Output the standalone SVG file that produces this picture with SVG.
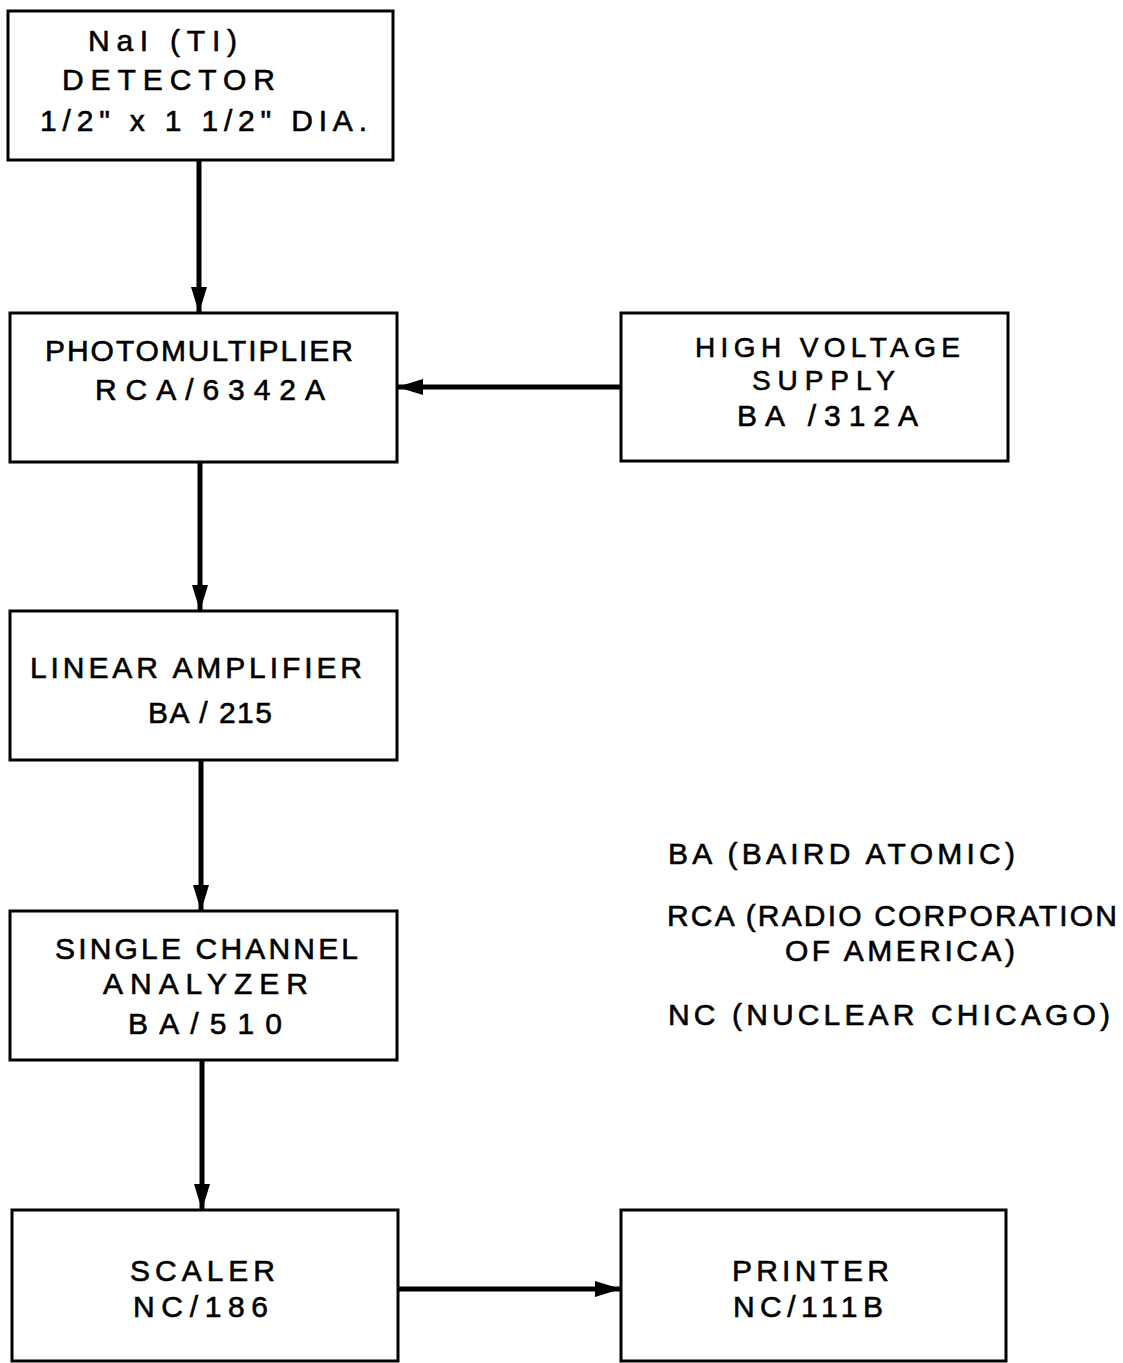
<svg xmlns="http://www.w3.org/2000/svg" width="1123" height="1363" viewBox="0 0 1123 1363">
<defs>
<style>
.box{fill:#fff;stroke:#000;stroke-width:3}
.t{font-family:"Liberation Sans",Arial,sans-serif;font-size:30px;fill:#000;stroke:#000;stroke-width:0.6}
.s{font-size:28px}
.c{stroke:#000;stroke-width:5;fill:none}
</style>
<marker id="ah" viewBox="0 0 26 16" refX="25" refY="8" markerWidth="26" markerHeight="16" markerUnits="userSpaceOnUse" orient="auto">
<path d="M0,0 L26,8 L0,16 Z" fill="#000"/>
</marker>
</defs>
<rect width="1123" height="1363" fill="#fff"/>
<g id="connectors">
<line class="c" x1="199" y1="160" x2="199" y2="312" marker-end="url(#ah)"/>
<line class="c" x1="200" y1="462" x2="200" y2="610" marker-end="url(#ah)"/>
<line class="c" x1="201" y1="760" x2="201" y2="910" marker-end="url(#ah)"/>
<line class="c" x1="202" y1="1060" x2="202" y2="1209" marker-end="url(#ah)"/>
<line class="c" x1="621" y1="387" x2="398" y2="387" marker-end="url(#ah)"/>
<line class="c" x1="398" y1="1289" x2="620" y2="1289" marker-end="url(#ah)"/>
</g>
<g id="detector">
<rect class="box" x="8" y="11" width="385" height="149"/>
<text class="t" x="88" y="51" textLength="149" lengthAdjust="spacing">NaI (TI)</text>
<text class="t" x="62" y="90" textLength="213" lengthAdjust="spacing">DETECTOR</text>
<text class="t" x="40" y="131" textLength="327" lengthAdjust="spacing">1/2" x 1 1/2" DIA.</text>
</g>
<g id="photomultiplier">
<rect class="box" x="10" y="313" width="387" height="149"/>
<text class="t" x="45" y="361" textLength="308" lengthAdjust="spacing">PHOTOMULTIPLIER</text>
<text class="t" x="95" y="400" textLength="230" lengthAdjust="spacing">RCA/6342A</text>
</g>
<g id="hv-supply">
<rect class="box" x="621" y="313" width="387" height="148"/>
<text class="t s" x="695" y="357" textLength="265" lengthAdjust="spacing">HIGH VOLTAGE</text>
<text class="t s" x="752" y="390" textLength="143" lengthAdjust="spacing">SUPPLY</text>
<text class="t" x="737" y="426" textLength="181" lengthAdjust="spacing">BA /312A</text>
</g>
<g id="linear-amplifier">
<rect class="box" x="10" y="611" width="387" height="149"/>
<text class="t" x="30" y="678" textLength="332" lengthAdjust="spacing">LINEAR AMPLIFIER</text>
<text class="t" x="148" y="723" textLength="124" lengthAdjust="spacing">BA / 215</text>
</g>
<g id="sca">
<rect class="box" x="10" y="911" width="387" height="149"/>
<text class="t" x="55" y="959" textLength="303" lengthAdjust="spacing">SINGLE CHANNEL</text>
<text class="t" x="103" y="994" textLength="205" lengthAdjust="spacing">ANALYZER</text>
<text class="t" x="128" y="1034" textLength="154" lengthAdjust="spacing">BA/510</text>
</g>
<g id="scaler">
<rect class="box" x="12" y="1210" width="386" height="151"/>
<text class="t" x="130" y="1281" textLength="145" lengthAdjust="spacing">SCALER</text>
<text class="t" x="133" y="1317" textLength="135" lengthAdjust="spacing">NC/186</text>
</g>
<g id="printer">
<rect class="box" x="621" y="1210" width="385" height="151"/>
<text class="t" x="732" y="1281" textLength="157" lengthAdjust="spacing">PRINTER</text>
<text class="t" x="733" y="1317" textLength="150" lengthAdjust="spacing">NC/111B</text>
</g>
<g id="legend">
<text class="t" x="668" y="864" textLength="347" lengthAdjust="spacing">BA (BAIRD ATOMIC)</text>
<text class="t" x="667" y="926" textLength="450" lengthAdjust="spacing">RCA (RADIO CORPORATION</text>
<text class="t" x="785" y="961" textLength="230" lengthAdjust="spacing">OF AMERICA)</text>
<text class="t" x="668" y="1025" textLength="442" lengthAdjust="spacing">NC (NUCLEAR CHICAGO)</text>
</g>
</svg>
